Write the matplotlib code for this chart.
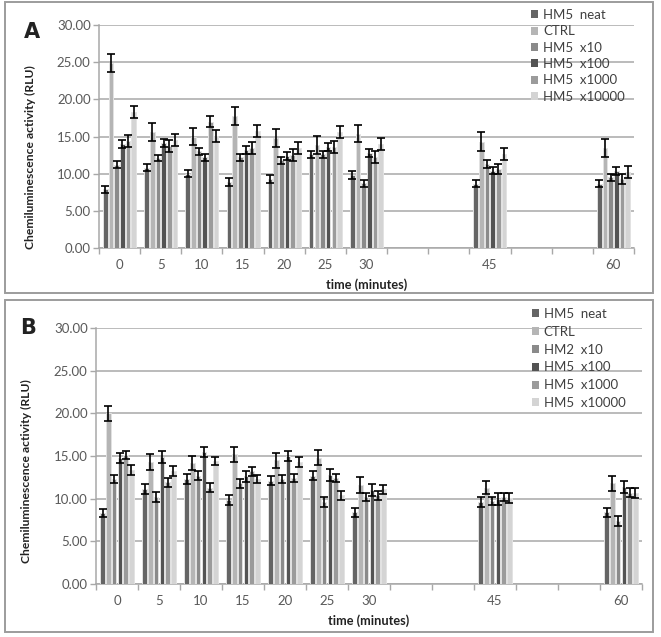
import numpy as np
import matplotlib
matplotlib.use('Agg')
import matplotlib.pyplot as plt
from matplotlib.patches import Rectangle

plt.rcParams['font.family'] = ['Lato', 'DejaVu Sans']

# x categories (Excel-style category axis, empty slots for 35, 40, 50, 55)
time_labels = ['0', '5', '10', '15', '20', '25', '30', '', '', '45', '', '', '60']

# panel A
labels_a = ['HM5  neat', 'CTRL', 'HM5  x10', 'HM5  x100', 'HM5  x1000', 'HM5  x10000']
neat_a = [7.9, 10.8, 10.0, 8.9, 9.3, 12.6, 9.8, 8.65, 8.65]
ctrl_a = [24.9, 15.6, 15.0, 17.8, 14.8, 13.9, 15.4, 14.3, 13.4]
x10_a = [11.2, 12.1, 13.0, 12.2, 11.8, 12.6, 8.7, 11.3, 9.5]
x100_a = [14.0, 14.1, 12.2, 13.2, 12.4, 13.6, 12.8, 10.4, 10.4]
x1000_a = [14.4, 13.7, 17.0, 13.4, 12.5, 13.6, 12.2, 10.6, 9.3]
x10000_a = [18.3, 14.5, 15.1, 15.7, 13.5, 15.6, 14.0, 12.6, 10.2]
neat_a_err = [0.5, 0.5, 0.5, 0.5, 0.55, 0.45, 0.55, 0.5, 0.5]
ctrl_a_err = [1.25, 1.2, 1.2, 1.2, 1.2, 1.2, 1.2, 1.3, 1.2]
x10_a_err = [0.45, 0.45, 0.45, 0.45, 0.45, 0.45, 0.5, 0.5, 0.45]
x100_a_err = [0.55, 0.55, 0.5, 0.5, 0.5, 0.55, 0.55, 0.45, 0.55]
x1000_a_err = [0.8, 0.8, 0.75, 0.8, 0.8, 0.8, 0.8, 0.7, 0.7]
x10000_a_err = [0.8, 0.8, 0.8, 0.8, 0.8, 0.8, 0.8, 0.8, 0.8]

# panel B
labels_b = ['HM5  neat', 'CTRL', 'HM2  x10', 'HM5  x100', 'HM5  x1000', 'HM5  x10000']
neat_b = [8.3, 11.1, 12.3, 9.8, 12.1, 12.7, 8.4, 9.6, 8.4]
ctrl_b = [20.0, 14.3, 14.2, 15.2, 14.5, 14.8, 11.6, 11.3, 11.8]
x10_b = [12.3, 10.2, 12.7, 11.8, 12.3, 9.6, 10.2, 9.7, 7.4]
x100_b = [14.8, 14.9, 15.5, 12.6, 15.0, 12.8, 11.0, 10.0, 11.4]
x1000_b = [15.1, 11.9, 11.3, 13.2, 12.4, 12.4, 10.4, 10.2, 10.7]
x10000_b = [13.4, 13.2, 14.4, 12.3, 14.3, 10.4, 11.1, 10.1, 10.7]
neat_b_err = [0.5, 0.6, 0.6, 0.6, 0.5, 0.5, 0.5, 0.6, 0.5]
ctrl_b_err = [0.9, 0.9, 0.8, 0.9, 0.9, 0.9, 0.9, 0.8, 0.9]
x10_b_err = [0.5, 0.6, 0.5, 0.5, 0.5, 0.6, 0.5, 0.5, 0.6]
x100_b_err = [0.6, 0.7, 0.6, 0.7, 0.6, 0.7, 0.7, 0.7, 0.7]
x1000_b_err = [0.5, 0.5, 0.5, 0.5, 0.5, 0.5, 0.5, 0.5, 0.5]
x10000_b_err = [0.6, 0.6, 0.5, 0.5, 0.6, 0.5, 0.5, 0.6, 0.6]

bar_colors = ['#656565', '#b5b5b5', '#8a8a8a', '#535353', '#9b9b9b', '#d4d4d4']
grid_color = '#a8a8a8'
text_color = '#595959'


def draw_panel(ax, series, errors, names, letter, letter_y, ylab_y, leg_anchor, leg_spacing, fs):
    slots = [i for i, t in enumerate(time_labels) if t != '']
    n = len(series)
    step = 0.138
    for k in range(n):
        xs = np.array(slots) + (k - (n - 1) / 2) * step
        ax.bar(xs, series[k], width=0.112, color=bar_colors[k], edgecolor='#e2e2e2',
               linewidth=0.7, yerr=errors[k], capsize=2.6, label=names[k], zorder=3,
               error_kw=dict(ecolor='black', elinewidth=1.2, capthick=1.2, zorder=4))

    ax.set_xlim(-0.5, len(time_labels) - 0.5)
    ax.set_ylim(0, 30)
    ax.set_yticks(np.arange(0, 31, 5))
    ax.set_yticklabels(['%.2f' % v for v in np.arange(0, 31, 5)], fontsize=fs, color=text_color)
    ax.set_xticks(np.arange(-0.5, len(time_labels), 1))
    ax.set_xticklabels([])
    ax.set_xticks(np.arange(len(time_labels)), minor=True)
    ax.set_xticklabels(time_labels, minor=True, fontsize=fs, color=text_color)
    ax.tick_params(axis='x', which='major', length=4, color=grid_color, width=1)
    ax.tick_params(axis='x', which='minor', length=0, pad=8)
    ax.tick_params(axis='y', length=4, color=grid_color, width=1, pad=2)

    ax.yaxis.grid(True, color=grid_color, linewidth=1.1, zorder=0)
    ax.set_axisbelow(True)
    for s in ['top', 'right']:
        ax.spines[s].set_visible(False)
    ax.spines['left'].set_color(grid_color)
    ax.spines['bottom'].set_color(grid_color)
    ax.spines['left'].set_linewidth(1.1)
    ax.spines['bottom'].set_linewidth(1.1)

    ax.set_xlabel('time (minutes)', fontsize=fs - 0.3, fontweight='bold', color='#222222', labelpad=5)
    ax.set_ylabel('Chemiluminescence activity (RLU)', fontsize=fs - 0.8, fontweight='bold', color='#222222')
    ax.yaxis.set_label_coords(-0.118, ylab_y)
    ax.text(-0.125, letter_y, letter, transform=ax.transAxes, fontsize=15, fontweight='bold',
            color='#222222', ha='center', va='center', family='DejaVu Sans')

    leg = ax.legend(loc='upper left', bbox_to_anchor=leg_anchor, bbox_transform=plt.gcf().transFigure,
                    frameon=False, fontsize=fs, handlelength=0.55, handleheight=0.55,
                    handletextpad=0.35, labelspacing=leg_spacing, borderpad=0, borderaxespad=0)
    for t in leg.get_texts():
        t.set_color('#404040')
    for h in leg.legend_handles:
        h.set_edgecolor('none')


fig = plt.figure(figsize=(6.61, 6.37), dpi=100)
fig.patch.set_facecolor('white')

W, H = 661.0, 637.0
# panel frames
fig.patches.append(Rectangle((5 / W, 1 - 293 / H), 648 / W, 291 / H, transform=fig.transFigure,
                             fill=False, edgecolor='#9c9c9c', linewidth=1.4))
fig.patches.append(Rectangle((5 / W, 1 - 632 / H), 648 / W, 332 / H, transform=fig.transFigure,
                             fill=False, edgecolor='#9c9c9c', linewidth=1.4))

ax_a = fig.add_axes([99 / W, 1 - 248 / H, 535 / W, 223 / H])
draw_panel(ax_a,
           [neat_a, ctrl_a, x10_a, x100_a, x1000_a, x10000_a],
           [neat_a_err, ctrl_a_err, x10_a_err, x100_a_err, x1000_a_err, x10000_a_err],
           labels_a, 'A', 0.97, 0.41, (531 / W, 1 - 9 / H), 0.33, 9.5)

ax_b = fig.add_axes([96 / W, 1 - 584 / H, 546 / W, 256 / H])
draw_panel(ax_b,
           [neat_b, ctrl_b, x10_b, x100_b, x1000_b, x10000_b],
           [neat_b_err, ctrl_b_err, x10_b_err, x100_b_err, x1000_b_err, x10000_b_err],
           labels_b, 'B', 1.0, 0.44, (532 / W, 1 - 308 / H), 0.44, 9.5)

fig.savefig('out.png', dpi=100)
